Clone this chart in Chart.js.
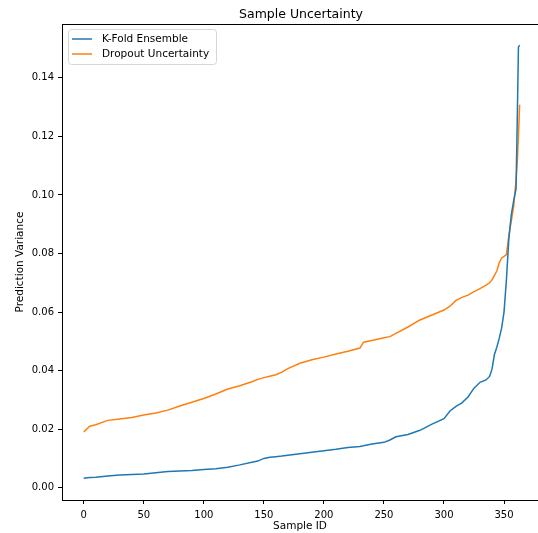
<!DOCTYPE html>
<html lang="en">
<head>
    <meta charset="UTF-8">
    <title>Sample Uncertainty</title>
    <script src="https://cdn.jsdelivr.net/npm/chart.js"></script>
    <style>
        html, body { margin: 0; padding: 0; background: #ffffff; }
        #wrap { width: 538px; height: 533px; position: relative; }
    </style>
</head>
<body>
    <div id="wrap">
        <canvas id="uncertaintyChart" width="538" height="533"></canvas>
    </div>

    <script>
        // values (sorted per-sample variance)
        const sampleIds = [0, 5, 10, 20, 30, 40, 50, 60, 70, 80, 90, 100, 110, 120, 130, 140, 145, 150, 155, 160,
            165, 170, 180, 190, 200, 210, 220, 230, 233, 240, 250, 255, 260, 270, 280, 290, 300, 305, 310, 315,
            320, 325, 330, 335, 338, 340, 342, 344, 346, 348, 350, 352, 354, 356, 358, 360, 361, 362, 363];

        const kfoldVariance = [0.0032, 0.0035, 0.0036, 0.0040, 0.0043, 0.0045, 0.0047, 0.0051, 0.0055, 0.0057,
            0.0059, 0.0062, 0.0065, 0.0070, 0.0078, 0.0087, 0.0091, 0.0100, 0.0104, 0.0106,
            0.0108, 0.0111, 0.0116, 0.0121, 0.0126, 0.0131, 0.0137, 0.0141, 0.0143, 0.0149,
            0.0155, 0.0163, 0.0174, 0.0182, 0.0196, 0.0217, 0.0236, 0.0262, 0.0278, 0.0290,
            0.0310, 0.0340, 0.0360, 0.0368, 0.0380, 0.0405, 0.0455, 0.0480, 0.0510, 0.0545,
            0.0600, 0.0710, 0.0850, 0.0930, 0.0980, 0.1020, 0.1250, 0.1505, 0.1512];

        const dropoutVariance = [0.0190, 0.0210, 0.0215, 0.0230, 0.0235, 0.0240, 0.0248, 0.0255, 0.0265, 0.0279,
            0.0292, 0.0305, 0.0320, 0.0337, 0.0348, 0.0362, 0.0370, 0.0376, 0.0381, 0.0386,
            0.0395, 0.0407, 0.0425, 0.0437, 0.0446, 0.0457, 0.0466, 0.0477, 0.0497, 0.0503,
            0.0512, 0.0516, 0.0527, 0.0549, 0.0573, 0.0590, 0.0607, 0.0620, 0.0640, 0.0650,
            0.0658, 0.0670, 0.0680, 0.0692, 0.0700, 0.0710, 0.0725, 0.0740, 0.0768, 0.0785,
            0.0790, 0.0796, 0.0860, 0.0910, 0.0960, 0.1050, 0.1110, 0.1200, 0.1308];

        const xTicks = [0, 50, 100, 150, 200, 250, 300, 350];
        const yTicks = [0.00, 0.02, 0.04, 0.06, 0.08, 0.10, 0.12, 0.14];

        const seriesNames = ['K-Fold Ensemble', 'Dropout Uncertainty'];
        const seriesColors = ['#1f77b4', '#ff7f0e'];

        const FONT = "'DejaVu Sans', sans-serif";

        function toPoints(values) {
            return sampleIds.map((id, i) => ({ x: id, y: values[i] }));
        }

        // title, top spine and legend box drawn like matplotlib
        const decorations = {
            id: 'decorations',
            afterDraw(chart) {
                const ctx = chart.ctx;
                const area = chart.chartArea;
                ctx.save();

                ctx.strokeStyle = '#000';
                ctx.lineWidth = 1;
                ctx.beginPath();
                ctx.moveTo(area.left, area.top + 0.5);
                ctx.lineTo(area.right + 10, area.top + 0.5);
                ctx.stroke();

                ctx.fillStyle = '#000';
                ctx.font = '12.5px ' + FONT;
                ctx.textAlign = 'center';
                ctx.textBaseline = 'alphabetic';
                ctx.fillText('Sample Uncertainty', 301, 18);

                // legend
                const bx = 68.5, by = 29.5, bw = 148, bh = 35, r = 3;
                ctx.beginPath();
                ctx.moveTo(bx + r, by);
                ctx.lineTo(bx + bw - r, by);
                ctx.quadraticCurveTo(bx + bw, by, bx + bw, by + r);
                ctx.lineTo(bx + bw, by + bh - r);
                ctx.quadraticCurveTo(bx + bw, by + bh, bx + bw - r, by + bh);
                ctx.lineTo(bx + r, by + bh);
                ctx.quadraticCurveTo(bx, by + bh, bx, by + bh - r);
                ctx.lineTo(bx, by + r);
                ctx.quadraticCurveTo(bx, by, bx + r, by);
                ctx.closePath();
                ctx.fillStyle = 'rgba(255,255,255,0.8)';
                ctx.fill();
                ctx.strokeStyle = '#d6d6d6';
                ctx.stroke();

                ctx.font = '10.5px ' + FONT;
                ctx.textAlign = 'left';
                ctx.textBaseline = 'middle';
                seriesNames.forEach((name, i) => {
                    const y = 39 + i * 15;
                    ctx.strokeStyle = seriesColors[i];
                    ctx.lineWidth = 1.5;
                    ctx.beginPath();
                    ctx.moveTo(72, y);
                    ctx.lineTo(92, y);
                    ctx.stroke();
                    ctx.fillStyle = '#000';
                    ctx.fillText(name, 102, y);
                });

                ctx.restore();
            }
        };

        const ctx = document.getElementById('uncertaintyChart').getContext('2d');
        new Chart(ctx, {
            type: 'line',
            data: {
                datasets: [
                    {
                        label: seriesNames[0],
                        data: toPoints(kfoldVariance),
                        borderColor: seriesColors[0],
                        borderWidth: 1.5,
                        pointRadius: 0,
                        tension: 0,
                        fill: false
                    },
                    {
                        label: seriesNames[1],
                        data: toPoints(dropoutVariance),
                        borderColor: seriesColors[1],
                        borderWidth: 1.5,
                        pointRadius: 0,
                        tension: 0,
                        fill: false
                    }
                ]
            },
            options: {
                responsive: false,
                animation: false,
                layout: { padding: { top: 24, right: 0, left: 0, bottom: 0 } },
                plugins: {
                    legend: { display: false },
                    title: { display: false },
                    tooltip: { enabled: false }
                },
                scales: {
                    x: {
                        type: 'linear',
                        min: -18.1,
                        max: 378.3,
                        afterBuildTicks: scale => { scale.ticks = xTicks.map(v => ({ value: v })); },
                        afterFit: scale => { scale.height = 33; },
                        grid: { drawOnChartArea: false, tickLength: 4, color: '#000', tickColor: '#000' },
                        border: { color: '#000', width: 1 },
                        ticks: { color: '#000', font: { family: FONT, size: 10 }, padding: 5, maxRotation: 0 },
                        title: { display: true, text: 'Sample ID', color: '#000', font: { family: FONT, size: 10.5 }, padding: { top: 5, bottom: 0 } }
                    },
                    y: {
                        type: 'linear',
                        min: -0.0042,
                        max: 0.1584,
                        afterBuildTicks: scale => { scale.ticks = yTicks.map(v => ({ value: v })); },
                        afterFit: scale => { scale.width = 62; },
                        grid: { drawOnChartArea: false, tickLength: 4, color: '#000', tickColor: '#000' },
                        border: { color: '#000', width: 1 },
                        ticks: {
                            color: '#000',
                            font: { family: FONT, size: 10 },
                            padding: 4,
                            callback: v => v.toFixed(2)
                        },
                        title: { display: true, text: 'Prediction Variance', color: '#000', font: { family: FONT, size: 10.5 }, padding: { top: 14, bottom: 0 } }
                    }
                }
            },
            plugins: [decorations]
        });
    </script>
</body>
</html>
